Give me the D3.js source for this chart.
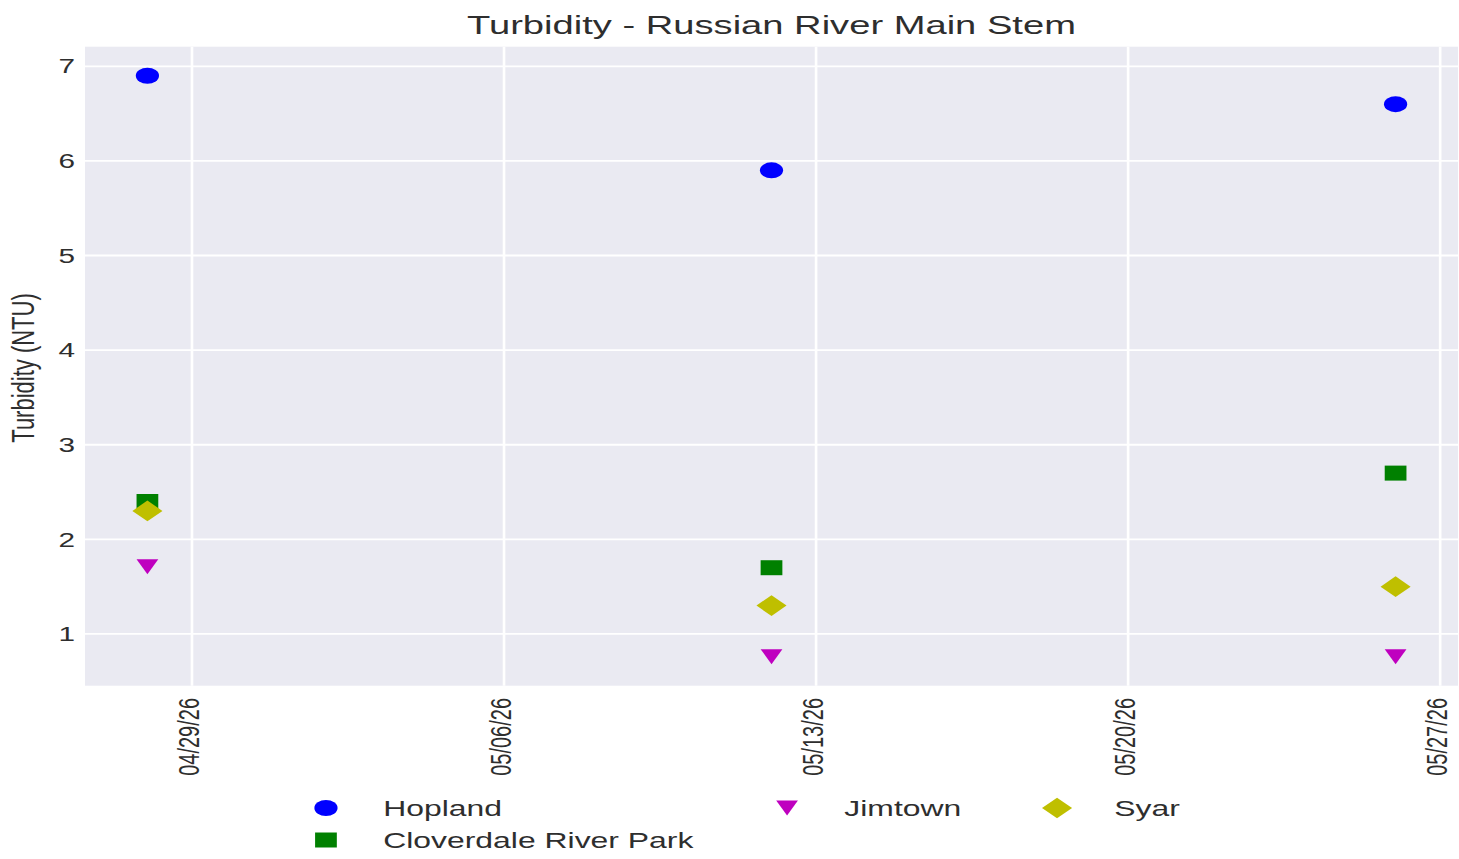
<!DOCTYPE html>
<html lang="en">
<head>
  <meta charset="utf-8"/>
  <title>Turbidity - Russian River Main Stem</title>
  <style>
    body { margin: 0; background: #fff; }
    svg text { font-family: "Liberation Sans", Arial, sans-serif; fill: #2e2e2e; }
  </style>
</head>
<body>
<div id="chart"></div>

<script src="https://cdn.jsdelivr.net/npm/d3@7/dist/d3.min.js"></script>
<script>

  // sample dates and readings per station
  let sampleDates = ['2026-04-28', '2026-05-12', '2026-05-26'];
  let hopland = [6.9, 5.9, 6.6];
  let cloverdale = [2.4, 1.7, 2.7];
  let jimtown = [1.71, 0.76, 0.76];
  let syar = [2.3, 1.3, 1.5];

  let xTickDates = ['2026-04-29', '2026-05-06', '2026-05-13', '2026-05-20', '2026-05-27'];
  let yTicks = [1, 2, 3, 4, 5, 6, 7];

  // the whole picture is drawn narrow and stretched horizontally
  let stretch = 1.45;
  let width = 1459, height = 859;
  let inner = { left: 85 / stretch, right: 1458 / stretch, top: 46.7, bottom: 685.7 };

  let parseDate = d3.utcParse('%Y-%m-%d');
  let formatDate = d3.utcFormat('%m/%d/%y');

  let series = [
    { label: 'Hopland', values: hopland, color: '#0000ff', shape: 'circle' },
    { label: 'Cloverdale River Park', values: cloverdale, color: '#008000', shape: 'square' },
    { label: 'Jimtown', values: jimtown, color: '#bf00bf', shape: 'triangle' },
    { label: 'Syar', values: syar, color: '#bfbf00', shape: 'diamond' }
  ];

  function padded(extent) {
    let pad = (extent[1] - extent[0]) * 0.05;
    return [extent[0] - pad, extent[1] + pad];
  }

  let dates = sampleDates.map(parseDate);
  let dateExtent = d3.extent(dates).map(d => +d);
  let allValues = series.flatMap(s => s.values);

  let x = d3.scaleUtc()
    .domain(padded(dateExtent).map(d => new Date(d)))
    .range([inner.left, inner.right]);
  let y = d3.scaleLinear()
    .domain(padded(d3.extent(allValues)))
    .range([inner.bottom, inner.top]);

  function markerPath(shape) {
    if (shape === 'circle') return d3.symbol(d3.symbolCircle, Math.PI * 64)();
    if (shape === 'square') return d3.symbol(d3.symbolSquare, 225)();
    if (shape === 'diamond') return d3.symbol(d3.symbolSquare, 215)();
    return 'M-7.5,-7.5L7.5,-7.5L0,7.5Z';
  }

  function markerRotation(shape) {
    return shape === 'diamond' ? ' rotate(45)' : '';
  }

  let svg = d3.select('#chart')
    .append('svg')
    .attr('width', width)
    .attr('height', height);

  let g = svg.append('g').attr('transform', `scale(${stretch},1)`);

  // plot background
  g.append('rect')
    .attr('x', inner.left)
    .attr('y', inner.top)
    .attr('width', inner.right - inner.left)
    .attr('height', inner.bottom - inner.top)
    .attr('fill', '#eaeaf2');

  // grid
  g.selectAll('.hgrid')
    .data(yTicks)
    .enter()
    .append('line')
    .attr('x1', inner.left)
    .attr('x2', inner.right)
    .attr('y1', d => y(d))
    .attr('y2', d => y(d))
    .attr('stroke', '#fff')
    .attr('stroke-width', 1.8);

  let xTicks = xTickDates.map(parseDate);
  g.selectAll('.vgrid')
    .data(xTicks)
    .enter()
    .append('line')
    .attr('x1', d => x(d))
    .attr('x2', d => x(d))
    .attr('y1', inner.top)
    .attr('y2', inner.bottom)
    .attr('stroke', '#fff')
    .attr('stroke-width', 1.8);

  // y tick labels
  g.selectAll('.ytick')
    .data(yTicks)
    .enter()
    .append('text')
    .attr('x', 75 / stretch)
    .attr('y', d => y(d))
    .attr('dy', '0.35em')
    .attr('text-anchor', 'end')
    .style('font-size', '20.5px')
    .text(d => d);

  // x tick labels, rotated
  g.selectAll('.xtick')
    .data(xTicks)
    .enter()
    .append('text')
    .attr('transform', d => `translate(${x(d)},698) rotate(-90)`)
    .attr('dy', '0.24em')
    .attr('text-anchor', 'end')
    .style('font-size', '20px')
    .text(d => formatDate(d));

  // axis label and title
  g.append('text')
    .attr('transform', `translate(${25 / stretch},368) rotate(-90)`)
    .attr('dy', '0.29em')
    .attr('text-anchor', 'middle')
    .style('font-size', '22px')
    .text('Turbidity (NTU)');

  g.append('text')
    .attr('x', 771.5 / stretch)
    .attr('y', 34)
    .attr('text-anchor', 'middle')
    .style('font-size', '26.3px')
    .text('Turbidity - Russian River Main Stem');

  // points
  series.forEach(function (s) {
    g.append('g')
      .selectAll('path')
      .data(s.values)
      .enter()
      .append('path')
      .attr('d', markerPath(s.shape))
      .attr('transform', (v, i) => `translate(${x(dates[i])},${y(v)})${markerRotation(s.shape)}`)
      .attr('fill', s.color);
  });

  // legend, three columns filled top to bottom
  let legendColumns = [224.8, 542.8, 729];
  let legendRows = [808, 840];
  let legend = g.append('g')
    .selectAll('g')
    .data(series)
    .enter()
    .append('g')
    .attr('transform', function (s, i) {
      let col = Math.floor(i / 2) === 0 ? 0 : i - 1;
      let row = i < 2 ? i : 0;
      return `translate(${legendColumns[col]},${legendRows[row]})`;
    });

  legend.append('path')
    .attr('d', s => markerPath(s.shape))
    .attr('transform', s => markerRotation(s.shape).trim())
    .attr('fill', s => s.color);

  legend.append('text')
    .attr('x', 39.5)
    .attr('dy', '0.35em')
    .style('font-size', '22px')
    .text(s => s.label);

</script>
</body>
</html>
